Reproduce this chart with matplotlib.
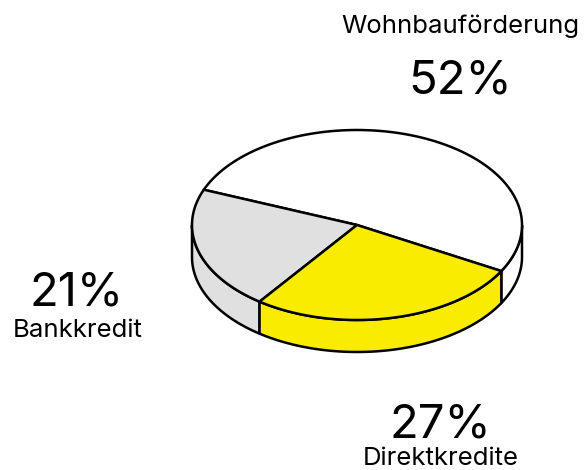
import numpy as np
import matplotlib.pyplot as plt
from matplotlib.patches import Polygon

labels = ["Wohnbauförderung", "Bankkredit", "Direktkredite"]
values = [52, 21, 27]
colors = ["#ffffff", "#e0e0e0", "#f9ec00"]

# pie geometry in pixel coordinates (y grows downwards)
cx, cy, a, b, depth = 357, 225, 165, 95, 32
start = -29

plt.rcParams["font.family"] = ["Inter", "DejaVu Sans"]
fig = plt.figure(figsize=(5.86, 4.70), dpi=100)
ax = fig.add_axes([0, 0, 1, 1])
ax.set_xlim(0, 586)
ax.set_ylim(470, 0)
ax.axis("off")


def rim(t1, t2, dy=0, n=100):
    t = np.radians(np.linspace(t1, t2, n))
    return np.column_stack([cx + a * np.cos(t), cy + dy - b * np.sin(t)])


angles = start + np.concatenate([[0], np.cumsum(values)]) * 360 / sum(values)
lw = 1.8

# side walls (only the front half, 180..360 deg)
for i in range(len(values)):
    for off in (0, 360, -360):
        t1 = max(angles[i] + off, 180)
        t2 = min(angles[i + 1] + off, 360)
        if t2 > t1:
            pts = np.vstack([rim(t1, t2), rim(t2, t1, depth)])
            ax.add_patch(Polygon(pts, closed=True, facecolor=colors[i],
                                 edgecolor="black", lw=lw, joinstyle="round"))

# top face wedges
for i in range(len(values)):
    pts = np.vstack([[cx, cy], rim(angles[i], angles[i + 1])])
    ax.add_patch(Polygon(pts, closed=True, facecolor=colors[i],
                         edgecolor="black", lw=lw, joinstyle="round"))

# labels
pct_pos = [(460, 93), (77, 305), (440, 437)]
name_pos = [(460, 33), (78, 337), (441, 465)]
for lab, v, (px, py), (nx, ny) in zip(labels, values, pct_pos, name_pos):
    ax.text(px, py, f"{v}%", fontsize=34, ha="center", va="baseline", color="black")
    ax.text(nx, ny, lab, fontsize=18.5, ha="center", va="baseline", color="black")

fig.savefig("out.png", dpi=100)
